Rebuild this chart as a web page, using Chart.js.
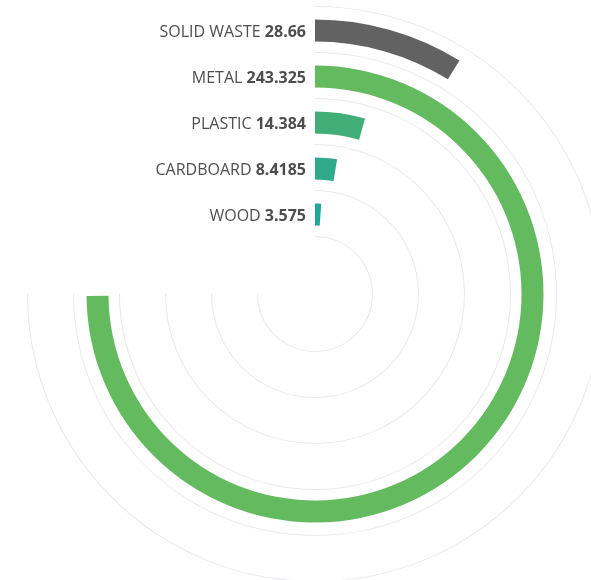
<!DOCTYPE html>
<html>
<head>
<meta charset="utf-8">
<script src="https://cdn.jsdelivr.net/npm/chart.js@4.4.1/dist/chart.umd.min.js"></script>
<style>
  html, body { margin: 0; padding: 0; background: #fff; overflow: hidden; }
  #wrap { position: absolute; left: 0; top: 0; width: 630px; height: 588px; }
</style>
</head>
<body>
<div id="wrap"><canvas id="gauge" width="630" height="588"></canvas></div>
<script>
const categories = ['SOLID WASTE', 'METAL', 'PLASTIC', 'CARDBOARD', 'WOOD'];
const values = [28.66, 243.325, 14.384, 8.4185, 3.575];
const valueLabels = ['28.66', '243.325', '14.384', '8.4185', '3.575'];
const colors = ['#626262', '#64bb5f', '#41ae78', '#2fa98a', '#22a69b'];
const gaugeMax = 325;
const trackShare = [0.75, 0.25];

const clear = 'rgba(0,0,0,0)';
const trackColor = '#e9e8ed';

function spacer(w) {
  return { data: [1], backgroundColor: [clear], weight: w, borderWidth: 0 };
}
function track() {
  return { data: trackShare, backgroundColor: [trackColor, clear], weight: 1, borderWidth: 0 };
}

const datasets = [];
const bandIndex = [];
categories.forEach((name, i) => {
  datasets.push(track());
  datasets.push(spacer(12.5));
  bandIndex.push(datasets.length);
  datasets.push({
    label: name,
    data: [values[i], gaugeMax - values[i]],
    backgroundColor: [colors[i], clear],
    weight: 22,
    borderWidth: 0
  });
  datasets.push(spacer(10.5));
});
datasets.push(track());

const labelPlugin = {
  id: 'bandLabels',
  afterDatasetsDraw(chart) {
    const ctx = chart.ctx;
    ctx.save();
    ctx.textBaseline = 'middle';
    ctx.textAlign = 'right';
    bandIndex.forEach((di, i) => {
      const arc = chart.getDatasetMeta(di).data[0];
      const y = arc.y - (arc.outerRadius + arc.innerRadius) / 2 + 1.5;
      const x = arc.x - 9;
      ctx.font = 'bold 16px "Open Sans", sans-serif';
      ctx.fillStyle = '#4d4d4d';
      ctx.fillText(valueLabels[i], x, y);
      const vw = ctx.measureText(valueLabels[i]).width;
      ctx.font = '16px "Open Sans", sans-serif';
      ctx.fillStyle = '#4f4f4f';
      ctx.fillText(categories[i] + ' ', x - vw, y);
    });
    ctx.restore();
  }
};

new Chart(document.getElementById('gauge'), {
  type: 'doughnut',
  data: { labels: ['value', 'rest'], datasets: datasets },
  options: {
    responsive: false,
    animation: false,
    events: [],
    radius: 288,
    cutout: (57 / 288 * 100).toFixed(2) + '%',
    layout: { padding: 0 },
    plugins: {
      legend: { display: false },
      tooltip: { enabled: false }
    }
  },
  plugins: [labelPlugin]
});
</script>
</body>
</html>
